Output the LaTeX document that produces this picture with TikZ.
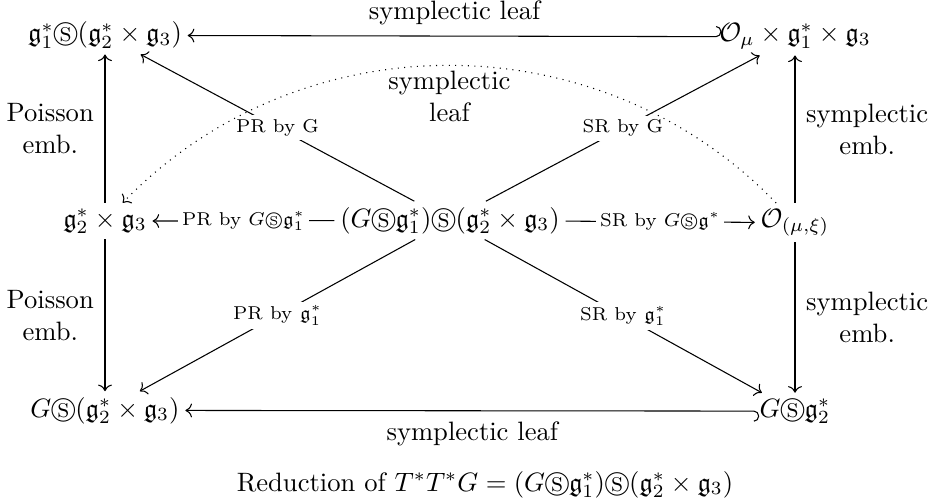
\documentclass[tikz,border=0pt]{standalone}
\usepackage{amssymb}
\usetikzlibrary{arrows.meta}
\begin{document}
\begin{tikzpicture}[x=0.376pt,y=-0.376pt,
  >={Computer Modern Rightarrow},
  obj/.style={inner sep=2pt, anchor=base},
  desc/.style={fill=white, inner sep=1.5pt, font=\scriptsize, anchor=center},
  lab/.style={align=center, inner sep=4pt},
  arr/.style={->, line width=0.4pt}]
\useasboundingbox (0,0) rectangle (941,500);
\node[obj] (TL) at (105,42) {$\mathfrak g_1^*\circledS(\mathfrak g_2^*\times\mathfrak g_3)$};
\node[obj] (TR) at (795,42) {$\mathcal O_\mu\times\mathfrak g_1^*\times\mathfrak g_3$};
\node[obj] (ML) at (105,227) {$\mathfrak g_2^*\times\mathfrak g_3$};
\node[obj] (MC) at (450,227) {$(G\circledS\mathfrak g_1^*)\circledS(\mathfrak g_2^*\times\mathfrak g_3)$};
\node[obj] (MR) at (795,227) {$\mathcal O_{(\mu,\xi)}$};
\node[obj] (BL) at (105,417) {$G\circledS(\mathfrak g_2^*\times\mathfrak g_3)$};
\node[obj] (BR) at (795,417) {$G\circledS\mathfrak g_2^*$};
\node[obj] (CAP) at (485,491) {Reduction of $T^*T^*G=(G\circledS\mathfrak g_1^*)\circledS(\mathfrak g_2^*\times\mathfrak g_3)$};

\draw[{Hooks[left,width=8pt,length=2pt]}->] ([xshift=3pt]TR.west) -- (TL) node[midway, above, inner sep=4pt] {symplectic leaf};
\draw[{Hooks[right,width=8pt,length=2pt]}->] ([xshift=2pt]BR.west) -- (BL) node[midway, below, inner sep=4pt] {symplectic leaf};

\draw[arr] (ML) -- (TL) node[midway, left, lab] {Poisson\\emb.};
\draw[arr] (ML) -- (BL) node[midway, left, lab] {Poisson\\emb.};
\draw[arr] (MR) -- (TR) node[midway, right, lab] {symplectic\\emb.};
\draw[arr] (MR) -- (BR) node[midway, right, lab] {symplectic\\emb.};

\draw[arr] (MC) -- (ML) node[midway, desc] {PR by $G\circledS\mathfrak g_1^*$};
\draw[arr] (MC) -- (MR) node[midway, desc] {SR by $G\circledS\mathfrak g^*$};

\draw[arr] (MC) -- (TL) node[midway, desc] {PR by G};
\draw[arr] (MC) -- (TR) node[midway, desc] {SR by G};
\draw[arr] (MC) -- (BL) node[midway, desc] {PR by $\mathfrak g_1^*$};
\draw[arr] (MC) -- (BR) node[midway, desc] {SR by $\mathfrak g_1^*$};

\draw[arr, dotted] (MR) to[bend right=46] node[midway, below, lab, inner sep=2pt] {symplectic\\leaf} (ML);
\end{tikzpicture}
\end{document}
